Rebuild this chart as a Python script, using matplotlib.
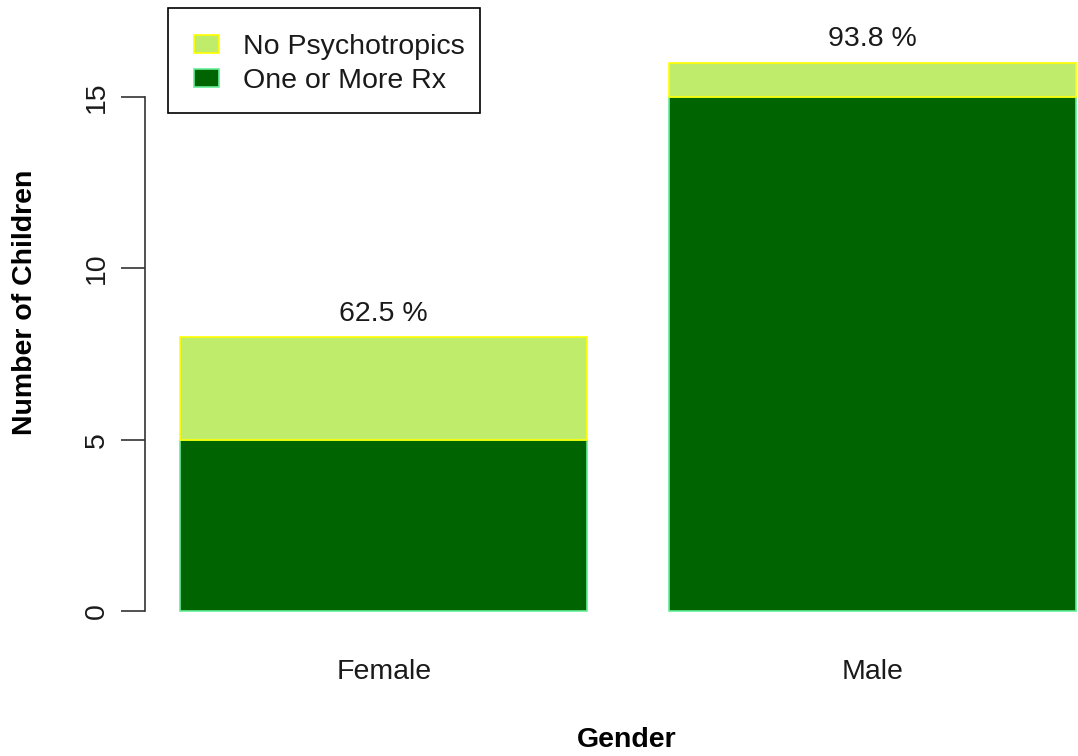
import matplotlib
matplotlib.use("Agg")
import matplotlib.pyplot as plt
from matplotlib.patches import Patch, Rectangle

categories = ["Female", "Male"]
one_or_more_rx = [5, 15]
no_psychotropics = [3, 1]
pct_labels = ["62.5 %", "93.8 %"]
series_names = ["No Psychotropics", "One or More Rx"]

plt.rcParams['font.family'] = ['Liberation Sans', 'DejaVu Sans']

W, H = 1078, 756
fig = plt.figure(figsize=(W / 100, H / 100), dpi=100)
left_px, right_px, top_px, bot_px = 144.5, 1111.5, 40.7, 633.0
ax = fig.add_axes([left_px / W, 1 - bot_px / H, (right_px - left_px) / W, (bot_px - top_px) / H])

light = '#BFEC6B'
dark = '#006400'
light_edge = '#FFFF00'
dark_edge = '#66EE99'
FS = 20.5

xpos = [0.7, 1.9]
ax.bar(xpos, one_or_more_rx, width=1.0, color=dark, edgecolor=dark_edge, linewidth=1.2)
ax.bar(xpos, no_psychotropics, bottom=one_or_more_rx, width=1.0, color=light,
       edgecolor=light_edge, linewidth=1.2)

tot = [a + b for a, b in zip(one_or_more_rx, no_psychotropics)]
for x, t, lab in zip(xpos, tot, pct_labels):
    ax.text(x, t + 0.3, lab, ha='center', va='bottom', fontsize=FS, color='#1a1a1a')

ax.set_xlim(0.112, 2.488)
ax.set_ylim(-0.64, 16.64)

for s in ['top', 'right', 'bottom']:
    ax.spines[s].set_visible(False)
ax.spines['left'].set_bounds(0, 15)
ax.spines['left'].set_color('#333333')
ax.spines['left'].set_linewidth(1.2)

ax.set_yticks([0, 5, 10, 15])
ax.set_yticklabels(['0', '5', '10', '15'], rotation=90, va='center', fontsize=FS, color='#1a1a1a')
ax.tick_params(axis='y', length=17, width=1.2, color='#333333', pad=8)
ax.set_xticks(xpos)
ax.set_xticklabels(categories, fontsize=FS, color='#1a1a1a')
ax.tick_params(axis='x', length=0, pad=19)

fig.text(25 / W, 1 - 302 / H, "Number of Children", rotation=90, ha='center', va='center',
         fontsize=FS, fontweight='bold', color='#000000')
fig.text(627 / W, 1 - 740 / H, "Gender", ha='center', va='center',
         fontsize=FS, fontweight='bold', color='#000000')

ax.add_patch(Rectangle((168 / W, 1 - 113 / H), (480 - 168) / W, (113 - 8) / H,
                       transform=fig.transFigure, facecolor='white', edgecolor='black',
                       linewidth=1.2, zorder=4, clip_on=False))

handles = [Patch(facecolor=light, edgecolor=light_edge, linewidth=1.2),
           Patch(facecolor=dark, edgecolor=dark_edge, linewidth=1.2)]
leg = ax.legend(handles, series_names, loc='upper left',
                bbox_to_anchor=(168 / W, 1 - 8 / H), bbox_transform=fig.transFigure,
                fontsize=FS, frameon=False,
                borderaxespad=0, handlelength=0.88, handleheight=0.6, handletextpad=0.84,
                borderpad=0.9, labelspacing=0.3)
leg.set_zorder(6)
for t in leg.get_texts():
    t.set_color('#1a1a1a')

fig.savefig('out.png', dpi=100)
